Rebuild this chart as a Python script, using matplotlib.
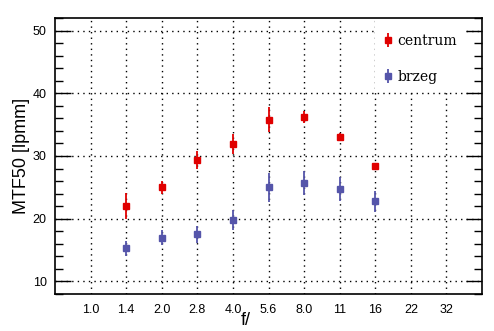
import matplotlib.pyplot as plt
import numpy as np
from matplotlib.patches import Rectangle

plt.style.use("default")

# f-number categories on the x axis
fnum = ["1.0", "1.4", "2.0", "2.8", "4.0", "5.6", "8.0", "11", "16", "22", "32"]

# measured apertures (subset of categories)
meas = ["1.4", "2.0", "2.8", "4.0", "5.6", "8.0", "11", "16"]
centrum     = [22.0, 25.0, 29.4, 31.9, 35.8, 36.2, 33.0, 28.4]
centrum_err = [2.1, 1.0, 1.4, 1.6, 2.0, 1.0, 0.6, 0.4]
brzeg       = [15.3, 17.0, 17.5, 19.8, 25.0, 25.7, 24.7, 22.8]
brzeg_err   = [1.2, 1.2, 1.4, 1.6, 2.3, 1.9, 1.9, 1.65]

W, H = 494, 331
fig = plt.figure(figsize=(W/100, H/100), dpi=100)
ax = fig.add_axes([55/W, 1-294/H, (482-55)/W, (294-18)/H])

idx = np.arange(len(fnum))
xm = [fnum.index(f) for f in meas]

red = "#e00000"
blue = "#5555aa"
ax.errorbar(xm, centrum, yerr=centrum_err, fmt="s", color=red, ms=5,
            elinewidth=1.3, capsize=0, label="centrum", zorder=4)
ax.errorbar(xm, brzeg, yerr=brzeg_err, fmt="s", color=blue, ms=5,
            elinewidth=1.3, capsize=0, label="brzeg", zorder=4)

ax.set_xlim(-1, len(fnum))
ax.set_ylim(8, 52)
ax.set_xticks(idx)
ax.set_xticklabels(fnum)
ax.set_xticks([], minor=True)
ax.set_yticks([10, 20, 30, 40, 50])
ax.set_yticks(np.arange(8, 53, 2), minor=True)

ax.grid(True, which="major", color="black", linestyle=(0, (1, 3)), linewidth=1)
ax.tick_params(axis="x", which="both", length=0, pad=7, labelsize=9,
               top=False, bottom=True)
ax.tick_params(axis="y", which="major", direction="in", length=11.5, width=1,
               left=True, right=True, pad=6, labelsize=9)
ax.tick_params(axis="y", which="minor", direction="in", length=5.8, width=1,
               left=True, right=True)
for lab in ax.get_xticklabels() + ax.get_yticklabels():
    lab.set_fontfamily("Liberation Sans")
for s in ax.spines.values():
    s.set_linewidth(1.2)

ax.set_ylabel("MTF50 [lpmm]", fontsize=13, family="Liberation Sans", labelpad=2)
ax.set_xlabel("f/", fontsize=13, family="Liberation Sans")
ax.xaxis.set_label_coords((246-55)/427, -18/276)

# white box behind the legend
ax.add_patch(Rectangle(((375-55)/427, (294-90)/276), (466-375)/427, (90-20)/276,
                       transform=ax.transAxes, facecolor="white", edgecolor="none",
                       zorder=3))
leg = ax.legend(loc="upper left", bbox_to_anchor=((378-55)/427, 1-10/276),
                frameon=False, prop={"family": "DejaVu Serif", "size": 10},
                handlelength=0.6, handletextpad=0.4, labelspacing=1.6,
                borderaxespad=0)

fig.savefig("out.png", dpi=100)
